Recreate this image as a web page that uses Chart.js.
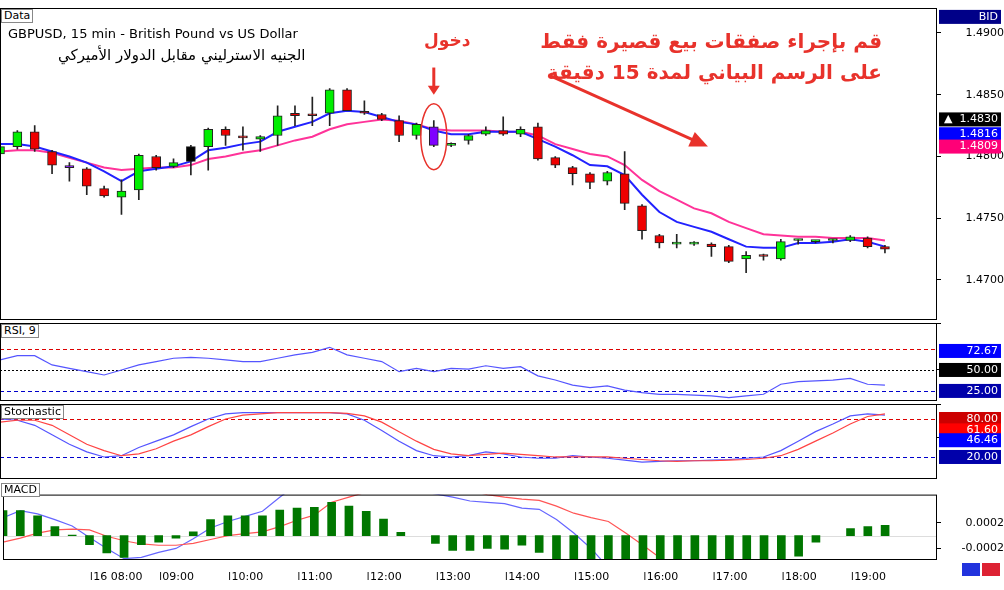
<!DOCTYPE html>
<html>
<head>
<meta charset="utf-8">
<script src="https://cdn.jsdelivr.net/npm/chart.js@4.4.0/dist/chart.umd.min.js"></script>
<style>
  body { margin: 0; background: #fff; font-family: "DejaVu Sans", sans-serif; }
  #wrap { position: relative; width: 1004px; height: 590px; overflow: hidden; background: #fff; }
  .pane { position: absolute; left: 0; width: 1004px; }
  .lbl { position: absolute; white-space: nowrap; }
  .tag { position: absolute; font: 11px "DejaVu Sans"; background: #fff; border: 1px solid #888; padding: 0 2px; line-height: 12px; }
</style>
</head>
<body>
<div id="wrap">
  <div class="pane" style="top:8px;height:312px"><canvas id="mainChart"></canvas></div>
  <div class="pane" style="top:323px;height:78px"><canvas id="rsiChart"></canvas></div>
  <div class="pane" style="top:404px;height:75px"><canvas id="stochChart"></canvas></div>
  <div class="pane" style="top:482px;height:98px"><canvas id="macdChart"></canvas></div>

  <div class="tag" style="left:1px;top:9px">Data</div>
  <div class="lbl" style="left:8px;top:26px;font-size:13px;color:#000">GBPUSD, 15 min - British Pound vs US Dollar</div>
  <div class="lbl" style="left:58px;top:46px;font-size:15px;color:#000" dir="rtl">الجنيه الاسترليني مقابل الدولار الأميركي</div>
  <div class="lbl" style="left:424px;top:30px;font-size:17px;font-weight:bold;color:#e8322b" dir="rtl">دخول</div>
  <div class="lbl" style="left:588px;top:26px;width:294px;text-align:right;font-size:20px;font-weight:bold;color:#e8322b;line-height:31px" dir="rtl">قم بإجراء صفقات بيع قصيرة فقط<br>على الرسم البياني لمدة 15 دقيقة</div>
  <div class="tag" style="left:1px;top:324px">RSI, 9</div>
  <div class="tag" style="left:1px;top:405px">Stochastic</div>
  <div class="tag" style="left:1px;top:483px">MACD</div>
  <div style="position:absolute;left:962px;top:563px;width:18px;height:13px;background:#2233dd"></div>
  <div style="position:absolute;left:982px;top:563px;width:18px;height:13px;background:#dd2233"></div>
</div>
<script>
// candles, 15 min
const opens  = [1.4802,1.4808,1.4820,1.4804,1.4792,1.4790,1.4774,1.4767,1.4773,1.4800,1.4792,1.4796,1.4808,1.4822,1.4816,1.4814,1.4817,1.4835,1.4834,1.4835,1.4854,1.4836,1.4834,1.4829,1.4817,1.4824,1.4809,1.4813,1.4818,1.4821,1.4818,1.4824,1.4799,1.4791,1.4786,1.4780,1.4786,1.4760,1.4736,1.4729,1.4729,1.4729,1.4727,1.4717,1.4720,1.4717,1.4732,1.4731,1.4732,1.4732,1.4734,1.4727];
const closes = [1.4808,1.4820,1.4806,1.4793,1.4791,1.4776,1.4768,1.4772,1.4801,1.4791,1.4795,1.4808,1.4822,1.4817,1.4815,1.4816,1.4833,1.4833,1.4833,1.4854,1.4837,1.4835,1.4830,1.4817,1.4826,1.4809,1.4810,1.4817,1.4821,1.4818,1.4822,1.4798,1.4793,1.4786,1.4779,1.4787,1.4762,1.4740,1.4730,1.4729,1.4729,1.4727,1.4715,1.4720,1.4719,1.4731,1.4732,1.4731,1.4732,1.4735,1.4727,1.4725];
const highs  = [1.4810,1.4821,1.4825,1.4805,1.4795,1.4791,1.4776,1.4781,1.4802,1.4801,1.4798,1.4809,1.4823,1.4824,1.4824,1.4817,1.4841,1.4841,1.4848,1.4855,1.4855,1.4845,1.4835,1.4833,1.4827,1.4829,1.4811,1.4818,1.4824,1.4832,1.4824,1.4827,1.4800,1.4792,1.4787,1.4788,1.4804,1.4761,1.4737,1.4737,1.4731,1.4730,1.4728,1.4723,1.4721,1.4733,1.4733,1.4732,1.4733,1.4736,1.4735,1.4728];
const lows   = [1.4800,1.4806,1.4804,1.4786,1.4780,1.4769,1.4767,1.4753,1.4765,1.4789,1.4791,1.4785,1.4789,1.4809,1.4805,1.4804,1.4809,1.4825,1.4825,1.4825,1.4837,1.4834,1.4829,1.4812,1.4814,1.4808,1.4808,1.4810,1.4817,1.4817,1.4816,1.4797,1.4791,1.4777,1.4774,1.4777,1.4757,1.4733,1.4726,1.4726,1.4728,1.4719,1.4714,1.4706,1.4716,1.4716,1.4729,1.4730,1.4730,1.4731,1.4726,1.4722];
const fastMA = [1.4810,1.4810,1.4808,1.4804,1.4800,1.4795,1.4788,1.4780,1.4788,1.4790,1.4792,1.4796,1.4805,1.4807,1.4810,1.4812,1.4820,1.4824,1.4828,1.4835,1.4837,1.4836,1.4832,1.4828,1.4826,1.4821,1.4818,1.4818,1.4820,1.4820,1.4820,1.4814,1.4808,1.4801,1.4793,1.4792,1.4785,1.4769,1.4755,1.4747,1.4743,1.4739,1.4733,1.4727,1.4726,1.4726,1.4730,1.4730,1.4731,1.4733,1.4731,1.4727];
const slowMA = [1.4804,1.4805,1.4805,1.4803,1.4799,1.4795,1.4791,1.4789,1.4790,1.4791,1.4791,1.4793,1.4798,1.4800,1.4803,1.4805,1.4809,1.4813,1.4816,1.4822,1.4826,1.4828,1.4830,1.4829,1.4826,1.4822,1.4821,1.4821,1.4821,1.4820,1.4820,1.4817,1.4810,1.4806,1.4802,1.4800,1.4793,1.4781,1.4772,1.4765,1.4758,1.4754,1.4747,1.4742,1.4737,1.4736,1.4735,1.4735,1.4734,1.4734,1.4734,1.4732];
const purpleBars = [4, 25];
const blackBars = [11];

const rsi = [62,67,67,56,52,48,44,50,56,60,64,65,64,62,60,60,64,68,71,77,68,64,60,48,52,48,52,51,55,52,54,43,38,32,29,31,26,23,21,21,20,19,17,19,21,33,36,37,38,40,33,32];
const stochK = [80,78,70,55,40,28,20,22,35,45,55,68,80,88,90,90,90,90,90,90,88,78,62,45,30,22,20,22,28,25,20,18,18,22,20,18,15,12,13,14,14,15,16,18,20,30,45,60,72,85,88,86];
const stochD = [75,78,78,70,55,40,30,22,25,33,45,55,68,80,86,88,90,90,90,90,89,85,75,60,45,32,25,22,24,26,24,22,20,20,20,20,18,16,14,13,14,14,15,16,18,22,32,45,58,72,84,88];
const macdHist = [0.00039,0.00039,0.00031,0.00014,0.00001,-0.00014,-0.00027,-0.00034,-0.00014,-0.0001,-0.00004,0.00006,0.00025,0.00031,0.00031,0.00031,0.0004,0.00043,0.00044,0.00052,0.00046,0.00038,0.00026,0.00005,null,-0.00012,-0.00023,-0.00023,-0.0002,-0.00021,-0.00015,-0.00026,-0.0006,-0.0006,-0.0006,-0.0006,-0.0006,-0.0006,-0.0006,-0.0006,-0.0006,-0.0006,-0.0006,-0.0006,-0.0006,-0.0006,-0.00032,-0.0001,null,0.00011,0.00014,0.00016];
const macdMain = [0.00028,0.00039,0.00034,0.00025,0.00015,-0.00003,-0.0002,-0.00036,-0.00034,-0.00026,-0.0002,-0.00005,0.00012,0.00022,0.0003,0.00038,0.0006,0.0008,0.001,0.0011,0.0011,0.001,0.0009,0.0008,0.0007,0.00065,0.0006,0.00054,0.00052,0.0005,0.00043,0.00041,0.00025,0.00004,-0.0002,-0.0005,-0.0008,-0.001,-0.0012,-0.0013,-0.0013,-0.0013,-0.0013,-0.0012,-0.0011,-0.001,-0.0009,-0.0008,-0.0007,-0.0006,-0.0006,-0.0006];
const macdSignal = [-0.0001,-0.00004,0.00004,0.00009,0.0001,0.00009,-0.00001,-0.00008,-0.00013,-0.00015,-0.00015,-0.00012,-0.00006,0,0.00003,0.00006,0.00014,0.00024,0.00032,0.00052,0.0006,0.00068,0.00074,0.00078,0.0008,0.00078,0.00074,0.0007,0.00064,0.0006,0.00057,0.00055,0.00046,0.00035,0.00028,0.00022,0.00004,-0.00015,-0.00035,-0.0005,-0.0006,-0.0007,-0.0008,-0.0008,-0.0008,-0.0008,-0.0008,-0.0008,-0.0008,-0.0008,-0.0008,-0.0008];

const slots = 55;
const firstHourSlot = 5;
const hourTicks = ['16 08:00','09:00','10:00','11:00','12:00','13:00','14:00','15:00','16:00','17:00','18:00','19:00'];
const priceTicks = [1.4700, 1.4750, 1.4800, 1.4850, 1.4900];

const labels = Array.from({ length: slots }, (_, i) => i);

// tags on the right axis, dashed levels, frame
const sidePlugin = {
    id: 'side',
    beforeDatasetsDraw(chart, args, opts) {
        const ctx = chart.ctx, a = chart.chartArea, y = chart.scales.y;
        (opts.levels || []).forEach(l => {
            ctx.save();
            ctx.strokeStyle = l.c;
            ctx.setLineDash(l.dash || [4, 3]);
            ctx.beginPath();
            ctx.moveTo(a.left, Math.round(y.getPixelForValue(l.v)) + 0.5);
            ctx.lineTo(a.right, Math.round(y.getPixelForValue(l.v)) + 0.5);
            ctx.stroke();
            ctx.restore();
        });
    },
    afterDraw(chart, args, opts) {
        const ctx = chart.ctx, a = chart.chartArea, y = chart.scales.y;
        const top = opts.fullFrame ? 0 : a.top;
        const bottom = opts.fullFrame ? chart.height : a.bottom;
        ctx.save();
        ctx.strokeStyle = '#000';
        ctx.lineWidth = 1;
        ctx.strokeRect(a.left + 0.5, top + 0.5, a.right - a.left - 1, bottom - top - 1);
        (opts.tags || []).forEach(t => {
            const py = y.getPixelForValue(t.v);
            ctx.fillStyle = t.bg;
            ctx.fillRect(a.right + 2, py - 7, 62, 14);
            ctx.fillStyle = t.fg || '#fff';
            ctx.font = '11px "DejaVu Sans"';
            ctx.textAlign = 'right';
            ctx.textBaseline = 'middle';
            ctx.fillText(t.t, a.right + 61, py);
        });
        ctx.restore();
    }
};

// entry marks on the price pane
const notesPlugin = {
    id: 'notes',
    afterDatasetsDraw(chart) {
        const ctx = chart.ctx, x = chart.scales.x, y = chart.scales.y;
        ctx.save();
        ctx.strokeStyle = '#e8322b';
        ctx.fillStyle = '#e8322b';
        ctx.lineWidth = 1.5;
        ctx.beginPath();
        ctx.ellipse(x.getPixelForValue(25), y.getPixelForValue(1.4816), 13, 33, 0, 0, Math.PI * 2);
        ctx.stroke();
        const ax = x.getPixelForValue(25), ay1 = y.getPixelForValue(1.4872), ay2 = y.getPixelForValue(1.4850);
        ctx.lineWidth = 3;
        ctx.beginPath(); ctx.moveTo(ax, ay1); ctx.lineTo(ax, ay2 - 8); ctx.stroke();
        ctx.beginPath(); ctx.moveTo(ax - 6, ay2 - 9); ctx.lineTo(ax + 6, ay2 - 9); ctx.lineTo(ax, ay2); ctx.closePath(); ctx.fill();
        const x1 = x.getPixelForValue(31.6), y1 = y.getPixelForValue(1.4866);
        const x2 = x.getPixelForValue(40.8), y2 = y.getPixelForValue(1.4808);
        const ang = Math.atan2(y2 - y1, x2 - x1);
        ctx.beginPath(); ctx.moveTo(x1, y1); ctx.lineTo(x2 - 14 * Math.cos(ang), y2 - 14 * Math.sin(ang)); ctx.stroke();
        ctx.beginPath();
        ctx.moveTo(x2, y2);
        ctx.lineTo(x2 - 18 * Math.cos(ang) + 8 * Math.sin(ang), y2 - 18 * Math.sin(ang) - 8 * Math.cos(ang));
        ctx.lineTo(x2 - 18 * Math.cos(ang) - 8 * Math.sin(ang), y2 - 18 * Math.sin(ang) + 8 * Math.cos(ang));
        ctx.closePath(); ctx.fill();
        ctx.restore();
    }
};

function xScale(show) {
    return {
        offset: false,
        grid: { display: false },
        border: { display: false },
        afterFit: s => { s.height = show ? 20 : 0; },
        ticks: {
            display: show,
            autoSkip: false,
            maxRotation: 0,
            align: 'start',
            color: '#000',
            font: { family: 'DejaVu Sans', size: 11 },
            callback: (v, i) => {
                const k = (i - firstHourSlot) / 4;
                return Number.isInteger(k) && hourTicks[k] ? '|' + hourTicks[k] : '';
            }
        }
    };
}

function yScale(min, max, extra) {
    return Object.assign({
        position: 'right',
        min: min,
        max: max,
        grid: { drawOnChartArea: false, tickLength: 4, color: '#000' },
        border: { display: false },
        afterFit: s => { s.width = 67; },
        ticks: { display: false }
    }, extra || {});
}

const baseOpts = {
    responsive: true,
    maintainAspectRatio: false,
    animation: false,
    layout: { padding: 0 },
    plugins: { legend: { display: false }, tooltip: { enabled: false } }
};

function candleColor(c) {
    const i = c.dataIndex;
    if (purpleBars.includes(i)) return '#7f00ff';
    if (blackBars.includes(i)) return '#000';
    return closes[i] >= opens[i] ? '#00ee00' : '#ee0000';
}

new Chart(document.getElementById('mainChart'), {
    type: 'bar',
    data: {
        labels: labels,
        datasets: [
            { type: 'line', data: slowMA, borderColor: '#ff3399', borderWidth: 2, pointRadius: 0, order: 4 },
            { type: 'line', data: fastMA, borderColor: '#2222ff', borderWidth: 2, pointRadius: 0, order: 3 },
            { data: lows.map((l, i) => [l, highs[i]]), backgroundColor: '#222', barThickness: 1, grouped: false, order: 2 },
            { data: opens.map((o, i) => [o, closes[i]]), backgroundColor: candleColor, borderColor: '#222',
              borderWidth: 1, borderSkipped: false, barThickness: 9, minBarLength: 2, grouped: false, order: 1 }
        ]
    },
    options: Object.assign({}, baseOpts, {
        plugins: Object.assign({}, baseOpts.plugins, {
            side: { fullFrame: true, tags: [
                { v: 1.4913, t: 'BID', bg: '#000088' },
                { v: 1.4830, t: '▲  1.4830', bg: '#000' },
                { v: 1.4818, t: '1.4816', bg: '#0000ff' },
                { v: 1.4808, t: '1.4809', bg: '#ff0077' }
            ] }
        }),
        scales: {
            x: xScale(false),
            y: yScale(1.46778, 1.49100, {
                afterBuildTicks: s => { s.ticks = priceTicks.map(v => ({ value: v })); },
                ticks: { display: true, crossAlign: 'far', padding: 6, color: '#000',
                         font: { family: 'DejaVu Sans', size: 11 }, callback: v => v.toFixed(4) }
            })
        }
    }),
    plugins: [sidePlugin, notesPlugin]
});

new Chart(document.getElementById('rsiChart'), {
    type: 'line',
    data: { labels: labels, datasets: [
        { data: rsi, borderColor: '#5555ff', borderWidth: 1.2, pointRadius: 0 }
    ] },
    options: Object.assign({}, baseOpts, {
        plugins: Object.assign({}, baseOpts.plugins, {
            side: {
                levels: [{ v: 75, c: '#dd0000' }, { v: 50, c: '#000', dash: [2, 2] }, { v: 25, c: '#0000cc' }],
                tags: [{ v: 72.67, t: '72.67', bg: '#0000ff' }, { v: 50, t: '50.00', bg: '#000' }, { v: 25, t: '25.00', bg: '#0000aa' }]
            }
        }),
        scales: { x: xScale(false), y: yScale(13, 106) }
    }),
    plugins: [sidePlugin]
});

new Chart(document.getElementById('stochChart'), {
    type: 'line',
    data: { labels: labels, datasets: [
        { data: stochD, borderColor: '#ff4444', borderWidth: 1.2, pointRadius: 0 },
        { data: stochK, borderColor: '#5555ff', borderWidth: 1.2, pointRadius: 0 }
    ] },
    options: Object.assign({}, baseOpts, {
        plugins: Object.assign({}, baseOpts.plugins, {
            side: {
                levels: [{ v: 80, c: '#dd0000' }, { v: 20, c: '#0000cc' }],
                tags: [{ v: 80, t: '80.00', bg: '#cc0000' }, { v: 62, t: '61.60', bg: '#ff0000' },
                       { v: 46.46, t: '46.46', bg: '#0000ff' }, { v: 20, t: '20.00', bg: '#0000aa' }]
            }
        }),
        scales: { x: xScale(false), y: yScale(-14.8, 103.7) }
    }),
    plugins: [sidePlugin]
});

new Chart(document.getElementById('macdChart'), {
    type: 'bar',
    data: { labels: labels, datasets: [
        { type: 'line', data: macdSignal, borderColor: '#ff5555', borderWidth: 1.2, pointRadius: 0, order: 2 },
        { type: 'line', data: macdMain, borderColor: '#6666ff', borderWidth: 1.2, pointRadius: 0, order: 3 },
        { data: macdHist, backgroundColor: '#007700', barThickness: 8, order: 1 }
    ] },
    options: Object.assign({}, baseOpts, {
        plugins: Object.assign({}, baseOpts.plugins, {
            side: { levels: [{ v: 0, c: '#dddddd', dash: [] }] }
        }),
        scales: {
            x: xScale(true),
            y: yScale(-0.00038, 0.00064, {
                afterBuildTicks: s => { s.ticks = [0.0002, -0.0002].map(v => ({ value: v })); },
                ticks: { display: true, crossAlign: 'far', padding: 6, color: '#000',
                         font: { family: 'DejaVu Sans', size: 11 }, callback: v => v.toFixed(4) }
            })
        }
    }),
    plugins: [sidePlugin]
});
</script>
</body>
</html>
